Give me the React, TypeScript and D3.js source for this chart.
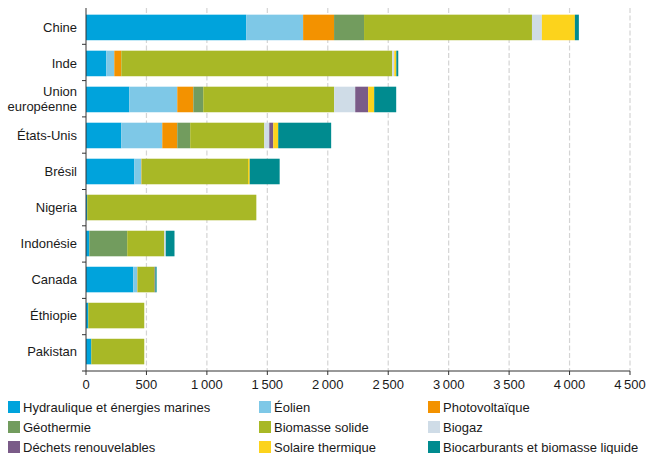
import * as d3 from "d3";

const countries = ["Chine", "Inde", "Union européenne", "États-Unis", "Brésil", "Nigeria", "Indonésie", "Canada", "Éthiopie", "Pakistan"];

const sources = [
    "Hydraulique et énergies marines",
    "Éolien",
    "Photovoltaïque",
    "Géothermie",
    "Biomasse solide",
    "Biogaz",
    "Déchets renouvelables",
    "Solaire thermique",
    "Biocarburants et biomasse liquide"
];

const colors = ["#00a3dc", "#7ec8e7", "#f39200", "#729c5e", "#a8b826", "#cfdce7", "#7a5b88", "#fcd31c", "#008b8f"];

// valeurs par pays, dans l'ordre des sources
const hydro = [1325, 168, 358, 292, 400, 10, 27, 391, 19, 44];
const eolien = [471, 66, 397, 339, 57, 0, 0, 33, 0, 0];
const pv = [256, 58, 133, 124, 3, 0, 0, 3, 0, 0];
const geo = [248, 0, 82, 107, 0, 0, 314, 0, 0, 0];
const biomasse = [1389, 2241, 1083, 613, 880, 1399, 307, 141, 463, 438];
const biogaz = [82, 17, 174, 41, 0, 0, 12, 0, 0, 0];
const dechets = [0, 0, 107, 33, 0, 0, 0, 6, 0, 0];
const solaire = [273, 17, 50, 41, 14, 0, 0, 0, 0, 0];
const biocarbu = [33, 16, 182, 438, 248, 0, 72, 10, 0, 0];

const series = [hydro, eolien, pv, geo, biomasse, biogaz, dechets, solaire, biocarbu];

const xTicks = [0, 500, 1000, 1500, 2000, 2500, 3000, 3500, 4000, 4500];

const width = 648;
const height = 454;
const top = 8;
const bottom = 371;
const left = 86;
const right = 630;
const font = "'Liberation Sans', Arial, Helvetica, sans-serif";

export default function App() {
    const x = d3.scaleLinear().domain([0, 4500]).range([left, right]);
    const y = d3.scaleBand<string>().domain(countries).range([top, bottom]).paddingInner(0.29).paddingOuter(0.185);

    const rows = countries.map((c, i) => {
        const obj: Record<string, number | string> = { country: c };
        sources.forEach((s, j) => (obj[s] = series[j][i]));
        return obj;
    });
    const stacked = d3.stack<Record<string, number | string>>().keys(sources)(rows as any);

    const fmt = (v: number) => d3.format(",")(v).replace(/,/g, "\u202f");
    const step = (bottom - top) / countries.length;

    return (
        <svg width={width} height={height} style={{ position: "absolute", left: 0, top: 0, fontFamily: font }}>
            <g>
                {xTicks.slice(1).map((t) => (
                    <line key={t} x1={x(t)} x2={x(t)} y1={top} y2={bottom} stroke="#d4d4d4" strokeWidth={1.2} strokeDasharray="5,2.5" />
                ))}
            </g>
            <g>
                {stacked.map((layer, j) => (
                    <g key={sources[j]} fill={colors[j]}>
                        {layer.map((d, i) => (
                            <rect key={i} x={x(d[0])} y={y(countries[i])} width={Math.max(0, x(d[1]) - x(d[0]))} height={y.bandwidth()} />
                        ))}
                    </g>
                ))}
            </g>
            <g stroke="#333" strokeWidth={1}>
                <line x1={left} x2={left} y1={top} y2={bottom} />
                <line x1={left} x2={right} y1={bottom} y2={bottom} />
                {xTicks.map((t) => (
                    <line key={t} x1={x(t)} x2={x(t)} y1={bottom} y2={bottom + 4} />
                ))}
                {countries.map((c, k) => (
                    <line key={c} x1={left - 4} x2={left} y1={top + (k + 1) * step} y2={top + (k + 1) * step} />
                ))}
            </g>
            <g fontSize={13} fill="#1a1a1a" textAnchor="middle">
                {xTicks.map((t) => (
                    <text key={t} x={x(t)} y={389}>{fmt(t)}</text>
                ))}
            </g>
            <g fontSize={13} fill="#1a1a1a" textAnchor="end">
                {countries.map((c) => {
                    const cy = (y(c) ?? 0) + y.bandwidth() / 2;
                    if (c === "Union européenne") {
                        return (
                            <text key={c} x={77}>
                                <tspan x={77} y={cy - 3}>Union</tspan>
                                <tspan x={77} y={cy + 12}>européenne</tspan>
                            </text>
                        );
                    }
                    return (
                        <text key={c} x={77} y={cy + 4.5}>{c}</text>
                    );
                })}
            </g>
            <g fontSize={13} fill="#1a1a1a">
                {sources.map((s, j) => {
                    const col = j % 3;
                    const row = Math.floor(j / 3);
                    const lx = [8, 259, 428][col];
                    const ly = 401 + row * 20;
                    return (
                        <g key={s}>
                            <rect x={lx} y={ly} width={12} height={12} fill={colors[j]} />
                            <text x={lx + 15} y={ly + 11}>{s}</text>
                        </g>
                    );
                })}
            </g>
        </svg>
    );
}
